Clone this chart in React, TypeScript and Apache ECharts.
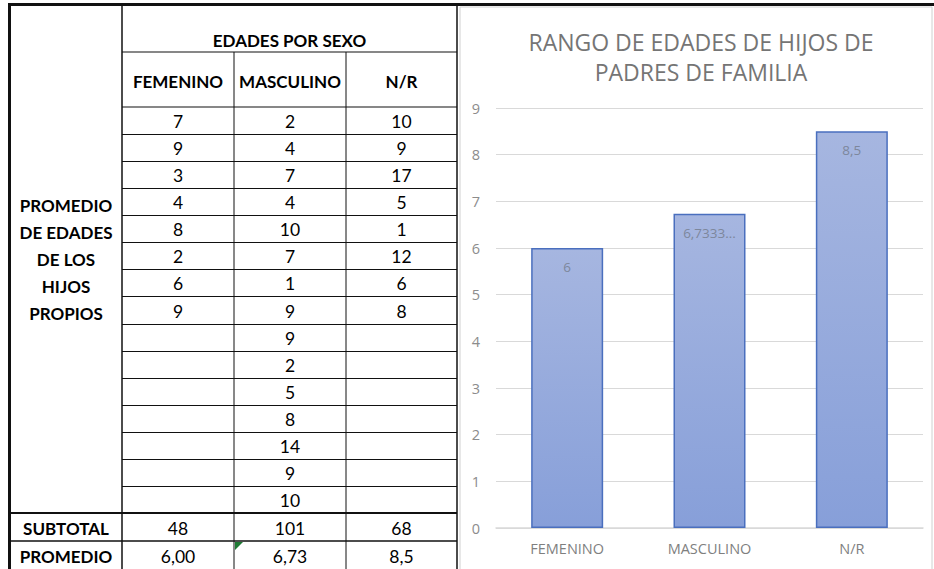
import React, { useEffect, useRef } from "react";
import * as echarts from "echarts";

const categories = ["FEMENINO", "MASCULINO", "N/R"];
const femenino = [7, 9, 3, 4, 8, 2, 6, 9];
const masculino = [2, 4, 7, 4, 10, 7, 1, 9, 9, 2, 5, 8, 14, 9, 10];
const noResponde = [10, 9, 17, 5, 1, 12, 6, 8];
const promedioLabels = ["6,00", "6,73", "8,5"];
const rowLabelLines = ["PROMEDIO", "DE EDADES", "DE LOS", "HIJOS", "PROPIOS"];
const tableTitle = "EDADES POR SEXO";
const chartTitleLines = ["RANGO DE EDADES DE HIJOS DE", "PADRES DE FAMILIA"];
const yTicks = [0, 9, 1];

const columns = [femenino, masculino, noResponde];
const sum = (a: number[]) => a.reduce((s, v) => s + v, 0);
const subtotals = columns.map(sum);
const averages = columns.map((a) => sum(a) / a.length);

function fmtLabel(v: number) {
  const s = String(v).replace(".", ",");
  return s.length > 6 ? s.slice(0, 6) + "..." : s;
}

export default function App() {
  const ref = useRef<HTMLDivElement>(null);
  useEffect(() => {
    document.body.style.margin = "0";
    const chart = echarts.init(ref.current!, null, { renderer: "svg" });

    const colX = [10, 122, 234, 346, 457];
    const top = 5;
    const h1 = 52;
    const h2 = 107;
    const nRows = Math.max(...columns.map((c) => c.length));
    const dataBottom = 513;
    const rowH = (dataBottom - h2) / nRows;
    const subBottom = 541;
    const bottom = 569;
    const tableFont = "Lato, 'Open Sans', sans-serif";
    const black = "#111";

    const g: any[] = [];
    const line = (x1: number, y1: number, x2: number, y2: number, w: number, c = black) =>
      g.push({ type: "line", shape: { x1, y1, x2, y2 }, style: { stroke: c, lineWidth: w }, silent: true });
    const text = (t: string, x: number, y: number, bold: boolean, size: number) =>
      g.push({
        type: "text",
        x,
        y,
        silent: true,
        style: {
          text: t,
          fill: "#000",
          font: `${bold ? "bold " : ""}${size}px ${tableFont}`,
          textAlign: "center",
          textVerticalAlign: "middle",
        },
      });

    // chart area border
    g.push({
      type: "rect",
      shape: { x: 460, y: 7, width: 472, height: 570 },
      style: { fill: "#fff", stroke: "#d0d0d0", lineWidth: 1 },
      silent: true,
      z: -10,
    });

    // grid lines of table
    for (let i = 1; i < nRows; i++) {
      const y = Math.round(h2 + i * rowH) + 0.5;
      line(colX[1], y, colX[4], y, 1);
    }
    line(colX[1], h1, colX[4], h1, 1.2);
    line(colX[1], h2, colX[4], h2, 1.2);
    line(colX[2], h1, colX[2], bottom, 1);
    line(colX[3], h1, colX[3], bottom, 1);
    line(colX[0], dataBottom, colX[4], dataBottom, 2);
    line(colX[0], subBottom, colX[4], subBottom, 1.5);
    line(colX[1], top, colX[1], bottom, 1.5);
    line(colX[4], top, colX[4], bottom, 1.5);
    line(9.5, 3, 9.5, bottom, 3);
    line(8, 4.5, 934, 4.5, 3);

    // header texts
    text(tableTitle, (colX[1] + colX[4]) / 2, 40, true, 17);
    categories.forEach((c, i) => text(c, (colX[i + 1] + colX[i + 2]) / 2, 81, true, 17));

    // data
    columns.forEach((col, ci) => {
      col.forEach((v, ri) => {
        text(String(v), (colX[ci + 1] + colX[ci + 2]) / 2, h2 + ri * rowH + rowH / 2 + 1, false, 17.5);
      });
      text(String(subtotals[ci]), (colX[ci + 1] + colX[ci + 2]) / 2, 528, false, 17.5);
      text(promedioLabels[ci], (colX[ci + 1] + colX[ci + 2]) / 2, 556, false, 17.5);
    });

    rowLabelLines.forEach((t, i) => text(t, 66, 205 + i * 27, true, 17));
    text("SUBTOTAL", 66, 528, true, 17);
    text("PROMEDIO", 66, 556, true, 17);

    // green error triangle
    g.push({
      type: "polygon",
      shape: { points: [[235, 542], [243, 542], [235, 550]] },
      style: { fill: "#1f7a35" },
      silent: true,
    });

    // chart title
    chartTitleLines.forEach((t, i) =>
      g.push({
        type: "text",
        x: 701,
        y: 42 + i * 30,
        silent: true,
        style: {
          text: t,
          fill: "#757575",
          font: "23px 'Open Sans', sans-serif",
          textAlign: "center",
          textVerticalAlign: "middle",
        },
      })
    );

    chart.setOption({
      animation: false,
      backgroundColor: "#fff",
      graphic: { elements: g },
      grid: { left: 496, right: 11, top: 108, bottom: 41 },
      xAxis: {
        type: "category",
        data: categories,
        axisLine: { lineStyle: { color: "#d9d9d9", width: 1.5 } },
        axisTick: { show: false },
        axisLabel: { color: "#7f7f7f", fontSize: 14.5, margin: 13, fontFamily: "'Open Sans', sans-serif" },
      },
      yAxis: {
        type: "value",
        min: yTicks[0],
        max: yTicks[1],
        interval: yTicks[2],
        axisLine: { show: false },
        axisTick: { show: false },
        splitLine: { lineStyle: { color: "#d9d9d9", width: 1.2 } },
        axisLabel: { color: "#8c8c8c", fontSize: 14.5, margin: 16, fontFamily: "'Open Sans', sans-serif" },
      },
      series: [
        {
          type: "bar",
          data: averages,
          barWidth: 72,
          itemStyle: {
            color: new echarts.graphic.LinearGradient(0, 0, 0, 1, [
              { offset: 0, color: "#a6b6e0" },
              { offset: 1, color: "#879fd9" },
            ]),
            borderColor: "#4a6fbe",
            borderWidth: 1.5,
          },
          label: {
            show: true,
            position: "insideTop",
            distance: 12,
            color: "#7d879c",
            fontSize: 13.5,
            fontFamily: "'Open Sans', sans-serif",
            formatter: (p: any) => fmtLabel(p.value),
          },
        },
      ],
    });
    return () => chart.dispose();
  }, []);
  return <div ref={ref} style={{ position: "absolute", left: 0, top: 0, width: 934, height: 569 }} />;
}
